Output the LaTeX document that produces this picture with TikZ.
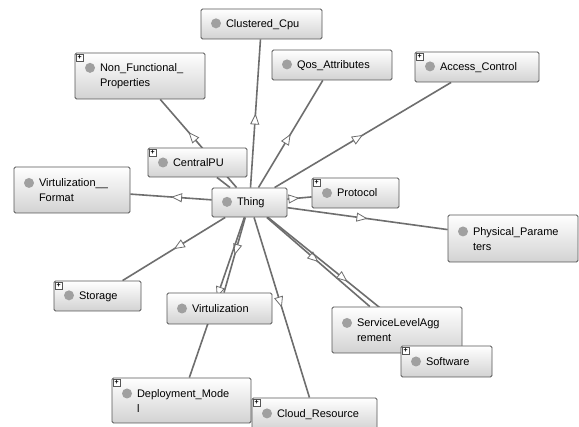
\documentclass[tikz,border=0pt]{standalone}
\usepackage{fontspec}
\setmainfont{Liberation Sans}
\usepackage{tikz}
\usetikzlibrary{arrows.meta,decorations.markings,backgrounds}

\definecolor{edgegray}{RGB}{110,110,110}
\definecolor{boxline}{RGB}{85,85,85}
\definecolor{dotgray}{RGB}{160,160,160}
\newcommand{\clsdot}{\tikz[baseline=-4pt]\fill[dotgray] (0,0) circle (5pt);\hspace{5pt}}

\begin{document}
\begin{tikzpicture}[x=1pt, y=-1pt,
  cls/.style={draw=boxline, line width=0.9pt, rounded corners=1.5pt, top color=white, bottom color=gray!35,
    align=left, inner xsep=10pt, inner ysep=2pt, minimum height=30pt,
    font=\fontsize{11}{15}\selectfont},
  plusbox/.style={draw=boxline, fill=white, line width=0.5pt, inner sep=0pt, minimum size=7pt,
    font=\fontsize{7}{7}\selectfont\bfseries},
  isa/.style={draw=edgegray, line width=1.6pt, postaction={decorate},
    decoration={markings, mark=at position #1 with {\arrow[line width=0.8pt]{Triangle[length=11pt, width=9pt, fill=white]}}}},
  isa/.default=0.5,
  link/.style={draw=edgegray, line width=1.6pt}]
  \useasboundingbox (0,0) rectangle (579,427);

  % Nodes
  \node[cls, text width=101pt] (clu) at (261.5,24) {\clsdot Clustered\_Cpu};
  \node[cls, text width=100pt] (qos) at (332,65) {\clsdot Qos\_Attributes};
  \node[cls, text width=104pt] (acc) at (477,67) {\clsdot Access\_Control};
  \node[cls, text width=110pt, minimum height=46pt] (nfp) at (140,76) {\clsdot Non\_Functional\_\\\hspace*{15pt}Properties};
  \node[cls, text width=79pt, minimum height=29pt] (cpu) at (197.5,162.5) {\clsdot CentralPU};
  \node[cls, text width=96pt, minimum height=46pt] (vfm) at (72,190) {\clsdot Virtulization\_\_\\\hspace*{15pt}Format};
  \node[cls, text width=55pt, minimum height=29pt] (thing) at (249.5,202.5) {\clsdot Thing};
  \node[cls, text width=67pt] (pro) at (355.5,193) {\clsdot Protocol};
  \node[cls, text width=110pt, minimum height=47pt] (phy) at (513,238.5) {\clsdot Physical\_Parame\\\hspace*{15pt}ters};
  \node[cls, text width=110pt, minimum height=46pt] (sla) at (397,330) {\clsdot ServiceLevelAgg\\\hspace*{15pt}rement};
  \node[cls, text width=71pt, minimum height=31pt] (sof) at (446.5,361.5) {\clsdot Software};
  \node[cls, text width=67pt] (sto) at (97.5,296) {\clsdot Storage};
  \node[cls, text width=85pt, minimum height=31pt] (vir) at (219.5,308.5) {\clsdot Virtulization};
  \node[cls, text width=119pt, minimum height=45pt] (dep) at (181.5,400.5) {\clsdot Deployment\_Mode\\\hspace*{15pt}l};
  \node[cls, text width=105pt, minimum height=32pt] (clo) at (314.5,414) {\clsdot Cloud\_Resource};

  % expandable markers
  \foreach \n in {acc,nfp,cpu,pro,sof,sto,dep,clo}
    \node[plusbox] (p-\n) at ([shift={(5pt,-5pt)}]\n.north west) {+};

  % Edges
  \begin{scope}[on background layer]
    \fill[white] (0,0) rectangle (579,427);
    \draw[isa] (thing) -- (clu);
    \draw[isa] (thing) -- (qos);
    \draw[isa] (thing) -- (acc);
    \draw[isa=0.63] (thing) -- (nfp);
    \draw[link] (thing) -- (cpu);
    \draw[isa] (thing) -- (vfm);
    \draw[isa] (thing) -- (pro);
    \draw[isa] (thing) -- (phy);
    \draw[isa] (thing) -- (sla);
    \draw[isa] (thing) -- (sof);
    \draw[isa] (thing) -- (sto);
    \draw[isa] (thing) -- (vir);
    \draw[isa] (thing) -- (dep);
    \draw[isa] (thing) -- (clo);
  \end{scope}
\end{tikzpicture}
\end{document}
